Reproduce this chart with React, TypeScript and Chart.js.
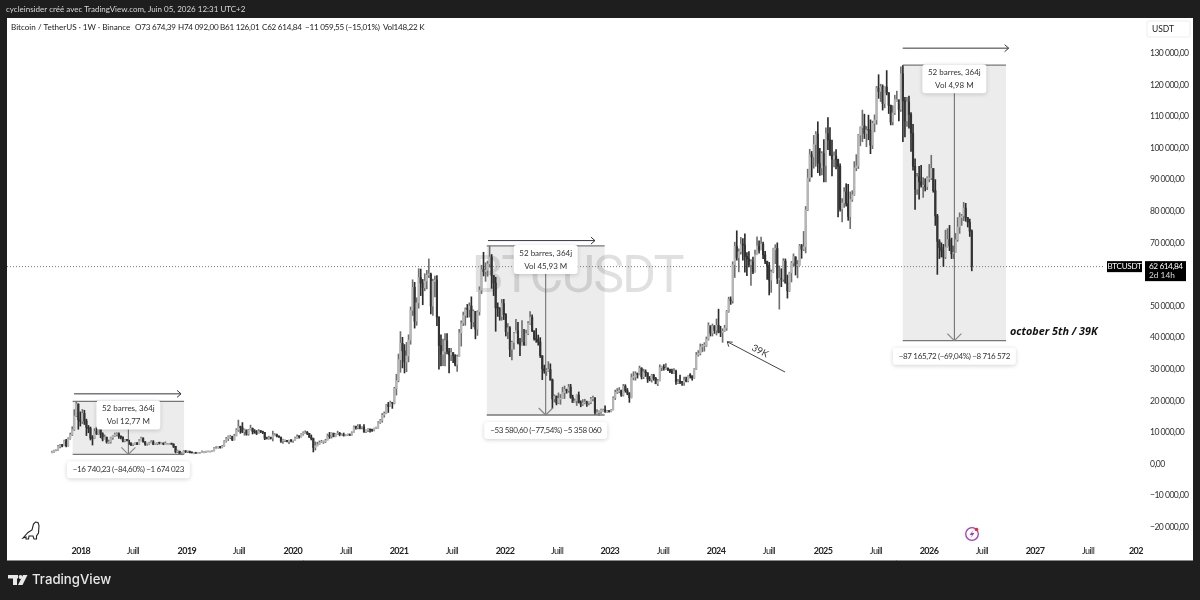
import React, { useEffect, useRef } from "react"
import { Chart, registerables } from "chart.js"

Chart.register(...registerables)

const FONT = "Lato, 'Noto Sans', sans-serif"
const THIN = " "

// weekly candles in thousands of USDT, first bar is the week of 18 Sep 2017
const firstOpen = 3.6
const closes = [
  3.7,4.3,4.4,5.6,6.0,5.7,7.4,5.8,8.0,9.3,10.9,15.2,19.0,14.0,13.5,
  16.0,13.6,11.6,11.2,8.2,8.1,10.3,9.6,11.4,9.5,7.9,8.5,7.0,7.0,8.3,8.9,9.3,9.6,8.7,8.5,7.3,7.7,7.5,6.5,6.2,6.4,6.7,6.2,7.4,8.2,7.0,6.3,6.4,6.7,7.0,6.2,6.5,6.7,6.6,6.6,6.3,6.4,6.4,6.4,6.3,5.6,3.9,4.0,3.2,3.2,4.0,3.9,4.0,
  3.6,3.5,3.5,3.4,3.6,3.6,3.8,3.8,3.9,4.0,4.0,4.1,5.1,5.1,5.3,5.2,5.7,7.2,8.0,8.7,8.7,7.6,8.9,10.8,11.9,11.5,10.2,10.8,9.5,10.8,11.3,10.3,10.1,9.6,10.4,10.3,10.0,8.2,8.1,8.3,8.2,9.2,9.2,8.8,8.5,7.3,7.4,7.5,7.1,7.5,7.3,7.4,
  8.2,8.7,8.6,9.4,9.9,9.9,9.7,8.5,8.0,5.2,5.8,6.2,6.8,6.9,7.1,7.5,8.9,8.7,9.7,8.7,9.4,9.7,9.3,9.3,9.0,9.1,9.3,9.2,9.9,11.8,11.6,11.8,11.6,11.7,10.2,10.7,11.1,10.8,10.7,11.3,11.4,13.1,13.8,15.5,16.0,18.7,18.2,19.4,19.2,23.9,26.4,33.0,
  38.2,35.8,32.3,34.2,39.2,48.6,55.9,45.2,51.0,59.0,57.3,55.8,57.9,59.8,60.0,50.0,57.8,58.2,46.5,37.5,34.7,35.6,39.0,35.6,34.5,35.3,34.3,31.5,34.0,41.5,44.6,47.0,49.0,48.9,50.0,45.0,48.3,42.7,48.2,55.0,61.5,60.9,61.3,63.3,65.5,59.7,57.3,49.4,49.3,46.7,50.8,47.3,
  41.9,43.1,36.3,38.5,41.4,42.2,38.4,37.7,38.4,37.8,41.3,44.5,46.4,42.2,39.7,39.4,38.6,34.3,30.1,29.4,29.5,29.9,26.6,20.6,21.5,19.3,20.8,20.8,22.6,23.6,23.2,24.3,21.1,19.5,20.0,21.8,19.4,18.9,19.3,19.4,19.3,19.5,20.6,20.9,16.3,16.3,16.5,17.1,17.1,16.8,16.8,16.6,
  17.1,20.9,22.7,23.0,23.3,21.8,24.6,23.2,22.4,21.0,27.4,27.5,28.5,28.3,30.3,27.6,29.2,28.9,26.9,26.7,28.1,27.1,25.4,26.3,30.5,30.6,30.3,30.3,29.8,29.3,29.0,29.3,26.0,26.0,25.9,25.8,26.6,26.3,28.0,27.9,27.2,30.0,34.5,35.0,37.1,37.4,37.5,39.5,43.8,41.4,43.7,42.3,
  43.9,41.7,41.6,42.0,43.0,48.3,52.1,51.7,63.1,68.9,65.3,67.2,69.6,69.3,65.7,64.9,63.1,64.0,60.8,66.2,69.0,67.7,69.6,66.2,64.2,62.8,58.2,60.8,68.2,68.2,58.7,58.7,58.4,64.2,57.3,54.8,60.5,63.6,65.6,62.8,62.9,69.0,68.0,68.7,80.4,90.5,97.9,97.2,101.1,104.4,95.2,93.7,98.3,
  94.5,104.5,102.6,97.7,96.5,97.5,96.3,94.2,80.7,82.6,86.1,82.4,78.3,83.7,85.2,93.7,94.3,104.1,106.5,107.0,104.6,105.7,105.6,100.9,107.8,108.9,119.0,117.9,119.4,114.1,119.3,117.5,113.5,108.3,111.1,115.3,115.3,112.2,123.5,114.9,108.6,114.6,110.6,104.7,94.2,87.0,90.9,89.3,88.2,88.2,87.8,90.5,
  90.5,93.5,86.5,78.5,70.5,68.5,67.5,65.5,68.5,71,69,66.5,67,71,75,78,78.5,81,78,76.5,73.67,62.61,
]
const highs = [
  4.1,4.4,4.5,5.9,6.2,6.2,7.6,7.8,8.3,9.8,11.8,17.2,19.8,19.0,16.5,
  17.3,17.0,14.2,12.2,11.7,9.0,11.2,11.7,11.6,11.6,9.9,9.2,8.5,7.6,8.5,9.0,9.8,9.9,9.9,8.9,8.6,7.8,7.8,7.6,6.8,6.5,6.8,6.8,7.7,8.5,8.3,7.1,6.6,6.9,7.4,7.4,6.6,6.8,6.8,6.7,6.7,7.0,6.5,6.5,6.5,6.4,5.6,4.4,4.1,3.6,4.2,4.2,4.1,
  4.1,3.8,3.6,3.5,3.7,3.7,4.2,3.9,4.0,4.0,4.1,4.2,5.3,5.5,5.4,5.6,5.9,7.4,8.4,8.9,9.1,8.8,9.4,11.2,13.9,12.0,13.1,11.1,10.7,11.0,12.3,11.4,10.9,10.6,10.9,10.5,10.4,10.0,8.5,8.8,8.4,10.4,9.6,9.5,8.9,8.5,7.9,7.6,7.5,7.6,7.7,7.5,
  8.5,9.2,8.9,9.6,10.2,10.5,10.3,9.7,9.2,8.2,7.0,6.9,7.3,7.5,7.3,7.8,9.5,10.0,9.9,9.8,9.6,10.4,10.0,9.6,9.8,9.3,9.5,9.3,10.2,12.1,12.0,12.5,12.5,11.8,12.5,10.8,11.2,11.0,11.0,11.4,11.7,13.4,14.1,16.0,16.5,18.9,19.5,19.9,19.4,24.3,28.4,34.8,
  41.9,40.1,37.8,38.5,40.9,49.7,58.3,57.5,52.6,61.8,61.7,58.4,60.2,61.3,64.9,60.4,58.5,59.5,59.6,46.6,40.9,39.5,41.3,41.3,36.6,36.6,35.1,34.6,34.5,42.6,45.3,48.1,49.4,50.5,51.0,52.9,48.8,48.3,48.5,56.1,62.9,67.0,63.7,64.2,69.0,66.3,59.4,59.1,51.0,49.5,52.1,52.1,
  47.6,44.4,43.5,38.9,41.7,45.8,44.8,39.8,45.4,42.6,42.4,45.1,48.2,47.2,41.6,42.9,40.8,40.0,34.2,31.3,30.2,32.4,31.7,26.9,21.9,21.5,22.5,22.0,24.3,24.7,23.7,25.2,25.2,21.8,20.6,21.9,22.8,20.0,20.4,20.5,19.9,19.7,21.1,21.5,21.0,17.2,16.8,17.4,17.4,18.4,17.0,16.9,
  17.2,21.3,23.4,23.9,24.2,23.4,25.2,25.1,23.9,22.6,28.5,29.2,29.2,28.8,31.0,30.5,30.0,29.8,28.8,27.7,28.4,28.4,27.4,26.8,31.4,31.0,31.5,31.8,30.4,30.0,30.0,30.2,29.7,26.8,28.1,26.1,27.5,27.5,28.0,28.6,27.9,30.2,35.3,35.9,38.0,37.9,38.4,40.2,44.7,43.4,44.3,43.8,
  45.9,49.0,43.6,42.8,43.9,48.6,52.8,52.9,64.0,70.2,73.8,68.1,71.7,71.3,72.8,66.9,67.2,64.7,65.5,67.7,71.9,70.6,71.8,70.2,67.3,63.4,63.8,61.4,68.3,69.4,70.0,62.7,61.8,65.0,64.9,59.8,60.7,64.1,66.5,65.5,64.4,69.5,69.5,73.6,81.5,93.3,99.6,98.9,104.0,105.2,108.3,99.9,98.9,
  102.7,106.4,109.6,106.5,102.5,98.8,99.5,96.5,95.0,84.0,87.5,88.7,88.5,86.1,86.5,95.7,97.9,104.3,106.7,112.0,110.7,106.8,110.4,108.9,108.5,110.5,119.5,123.2,120.2,120.0,119.4,124.5,117.5,113.6,113.4,116.7,118.0,113.9,125.7,126.2,116.0,116.0,116.4,111.2,107.5,96.6,92.0,94.2,94.5,90.6,90.3,90.9,
  94.8,97.7,93.5,90.0,79.0,71,70,69.5,74,74.5,75.5,71.5,69,73,78,79.5,79,82.8,82.5,78,77.5,74.09,
]
const lows = [
  3.5,3.7,4.1,4.3,5.1,5.4,6.0,5.4,5.6,7.8,9.0,10.6,15.0,11.0,12.0,
  12.8,12.5,9.0,9.9,7.6,6.0,8.0,9.3,9.4,8.3,7.3,7.9,6.6,6.5,6.6,7.8,8.7,8.9,8.1,7.9,7.0,7.0,7.3,6.1,5.8,5.8,6.2,6.1,6.2,7.3,6.9,5.9,5.9,6.2,6.7,6.1,6.1,6.1,6.3,6.4,6.1,6.3,6.3,6.2,6.2,5.2,3.5,3.6,3.2,3.1,3.2,3.6,3.6,
  3.5,3.5,3.4,3.4,3.4,3.5,3.6,3.7,3.7,3.8,3.9,3.9,4.1,4.9,5.0,5.0,5.1,5.6,6.9,7.4,8.0,7.4,7.6,8.9,10.3,9.7,9.9,9.1,9.1,9.1,10.8,9.5,9.7,9.3,9.6,9.9,9.6,7.7,7.9,7.8,7.9,7.3,9.0,8.6,8.4,6.8,6.5,7.1,7.0,6.4,7.0,6.8,
  7.4,8.1,8.2,8.5,9.1,9.7,9.3,8.4,7.6,3.8,4.4,5.7,6.2,6.7,6.5,6.8,7.6,8.1,8.2,8.6,8.6,9.3,8.9,9.0,8.8,8.9,9.0,9.0,9.1,9.9,11.0,11.1,11.1,11.1,10.0,9.9,10.2,10.1,10.3,10.5,11.2,11.3,12.8,13.2,14.8,15.9,16.3,18.2,17.6,19.0,21.8,26.0,
  29.0,30.4,28.8,29.2,32.3,37.9,47.0,43.0,43.9,49.3,53.3,50.4,54.8,55.4,59.0,47.5,47.0,52.9,43.8,30.0,31.0,31.1,31.0,34.8,28.8,32.7,32.1,31.0,29.3,34.0,37.3,43.8,43.9,46.4,46.5,42.8,43.4,39.6,40.7,47.1,53.9,59.5,57.8,59.4,62.3,55.6,53.3,42.0,46.7,45.5,45.5,45.7,
  40.5,39.7,34.0,32.9,36.3,41.7,38.0,34.3,37.6,37.5,37.6,40.9,44.2,41.9,39.2,38.5,37.6,33.7,26.7,28.7,28.0,29.3,26.5,17.6,19.6,18.7,19.1,18.9,20.8,20.7,22.4,22.7,20.8,19.5,19.5,18.5,19.3,18.1,18.5,19.0,18.2,18.7,19.1,20.0,15.6,15.8,15.4,16.0,16.7,16.3,16.3,16.4,
  16.5,17.1,20.4,22.3,22.5,21.4,21.5,22.7,21.9,19.5,20.9,26.6,26.5,27.2,28.2,26.9,27.0,27.7,25.8,26.3,25.9,26.5,25.4,24.8,26.3,29.5,29.7,29.9,29.5,28.9,28.6,28.7,25.2,25.4,25.4,24.9,24.9,26.0,26.0,27.2,26.5,27.1,29.9,34.1,34.5,35.5,35.7,37.2,39.2,40.5,40.5,41.3,
  40.8,41.5,40.3,38.5,41.9,42.3,48.0,50.5,50.9,59.0,64.5,60.8,66.4,64.5,60.7,59.6,62.4,56.5,60.2,60.7,66.6,66.7,68.4,65.0,63.4,58.4,53.5,54.3,60.6,63.4,57.1,49.0,56.1,57.8,57.2,52.5,54.6,57.6,62.7,59.8,58.9,62.9,65.1,67.5,66.8,80.2,89.4,90.8,93.6,94.2,92.2,91.3,91.5,
  89.3,89.3,99.5,97.7,91.2,94.0,93.4,78.2,80.0,76.6,81.2,81.6,77.1,74.5,83.1,85.0,92.8,93.5,100.7,102.0,103.0,100.4,102.6,98.2,99.8,105.1,107.5,115.7,114.7,112.0,112.7,116.8,110.9,107.3,107.3,110.6,114.8,108.6,111.6,102.0,103.5,106.8,106.3,98.9,93.0,80.6,85.3,83.8,87.6,84.4,86.4,86.8,
  89.3,90.0,86.0,75.5,60.0,65,65.5,62.5,65,68.5,67.5,65,65,67,70.5,73,75.5,77,76.8,75,72,61.13,
]
const lastPrice = 62614.84

const yTickValues = [-20000,-10000,0,10000,20000,30000,40000,50000,60000,70000,80000,90000,100000,110000,120000,130000]
const xTickWeeks = [14.3,40,66.6,92.3,118.9,145.1,171.3,197.4,223.6,249.3,275.4,301.6,327.8,353.9,380.6,406.7,432.9,459,485.2,511.4,535]
const xTickLabels = ["2018","Juill","2019","Juill","2020","Juill","2021","Juill","2022","Juill","2023","Juill","2024","Juill","2025","Juill","2026","Juill","2027","Juill","202"]

// the three bear market measure boxes
const boxStartWeek = [10.2, 214.6, 419.9]
const boxEndWeek = [65.2, 272.8, 470.9]
const boxTop = [19800, 69000, 126200]
const boxBottom = [3060, 15500, 39035]
const boxLine1 = ["52 barres, 364j", "52 barres, 364j", "52 barres, 364j"]
const boxLine2 = [`Vol 12,77${THIN}M`, `Vol 45,93${THIN}M`, `Vol 4,98${THIN}M`]
const boxResult = [
  `\u221216${THIN}740,23 (\u221284,60%) \u22121${THIN}674${THIN}023`,
  `\u221253${THIN}580,60 (\u221277,54%) \u22125${THIN}358${THIN}060`,
  `\u221287${THIN}165,72 (\u221269,04%) \u22128${THIN}716${THIN}572`,
]
const spanArrowStart = [10.9, 215.2, 419.9]
const spanArrowEnd = [63.7, 268, 472.2]
const spanArrowPrice = [22200, 70700, 131600]

const wedgeFromWeek = 361.8
const wedgeFromPrice = 29100
const wedgeToWeek = 333.3
const wedgeToPrice = 38700

const headerText = "cycleinsider cr\u00e9\u00e9 avec TradingView.com, Juin 05, 2026 12:31 UTC+2"
const legendText = "Bitcoin / TetherUS \u00b7 1W \u00b7 Binance"
const legendValues = [`O73${THIN}674,39`, `H74${THIN}092,00`, `B61${THIN}126,01`, `C62${THIN}614,84`, `\u221211${THIN}059,55 (\u221215,01%)`, `Vol148,22${THIN}K`]

const opens = closes.map((_, i) => (i === 0 ? firstOpen : closes[i - 1]))

function frenchPrice(v: number) {
  const abs = Math.abs(v)
  const int = Math.floor(abs).toString().replace(/\B(?=(\d{3})+$)/g, THIN)
  const dec = abs.toFixed(2).split(".")[1]
  return (v < 0 ? "\u2212" : "") + int + "," + dec
}

function text(ctx: any, s: string, x: number, y: number, font: string, color: string, align: CanvasTextAlign = "left", spacing = "0px") {
  ctx.font = font
  ctx.letterSpacing = spacing
  ctx.fillStyle = color
  ctx.textAlign = align
  ctx.textBaseline = "middle"
  ctx.fillText(s, x, y)
}

function line(ctx: CanvasRenderingContext2D, x1: number, y1: number, x2: number, y2: number, color: string, width = 1) {
  ctx.strokeStyle = color
  ctx.lineWidth = width
  ctx.beginPath()
  ctx.moveTo(x1, y1)
  ctx.lineTo(x2, y2)
  ctx.stroke()
}

function labelBox(ctx: CanvasRenderingContext2D, x: number, y: number, w: number, h: number) {
  ctx.save()
  ctx.shadowColor = "rgba(0,0,0,0.18)"
  ctx.shadowBlur = 4
  ctx.shadowOffsetY = 1
  ctx.fillStyle = "#ffffff"
  ctx.beginPath()
  ctx.roundRect(x, y, w, h, 3)
  ctx.fill()
  ctx.restore()
}

const framePlugin = {
  id: "frame",
  beforeDraw(chart: any) {
    const { ctx } = chart
    ctx.save()
    ctx.fillStyle = "#1e1e1e"
    ctx.fillRect(0, 0, 1200, 600)
    ctx.fillStyle = "#ffffff"
    ctx.fillRect(7, 18, 1186, 542)
    line(ctx, 7, 560.5, 1193, 560.5, "#8a8a8a")
    text(ctx, headerText, 6, 9.5, `8px ${FONT}`, "#d8d8d8")

    // TradingView logo, bottom left
    ctx.fillStyle = "#e8e8e8"
    ctx.fillRect(8, 575, 10, 3.5)
    ctx.fillRect(13, 575, 4, 10)
    ctx.beginPath()
    ctx.arc(20.5, 577, 1.9, 0, Math.PI * 2)
    ctx.fill()
    ctx.beginPath()
    ctx.moveTo(23, 575)
    ctx.lineTo(27.5, 575)
    ctx.lineTo(22.5, 585)
    ctx.lineTo(18, 585)
    ctx.closePath()
    ctx.fill()
    text(ctx, "TradingView", 32, 580.5, `500 13.2px Inter, ${FONT}`, "#e8e8e8")
    ctx.restore()
    // axis labels are drawn right after this hook and sit a little tighter
    ctx.letterSpacing = "-0.55px"
  },
  beforeDatasetsDraw(chart: any) {
    const { ctx, scales } = chart
    const px = (w: number) => scales.x.getPixelForValue(w)
    const py = (p: number) => scales.y.getPixelForValue(p)
    ctx.save()
    boxStartWeek.forEach((w, i) => {
      ctx.fillStyle = "#ececec"
      ctx.fillRect(px(w), py(boxTop[i]), px(boxEndWeek[i]) - px(w), py(boxBottom[i]) - py(boxTop[i]))
    })
    ctx.globalAlpha = 0.12
    text(ctx, "BTCUSDT", 577, 279, `52px Roboto, ${FONT}`, "#000000", "center", "-2px")
    ctx.globalAlpha = 1
    ctx.setLineDash([1, 2])
    line(ctx, 7, py(lastPrice) + 0.5, 1105, py(lastPrice) + 0.5, "#777777")
    ctx.setLineDash([])
    ctx.restore()
  },
  afterDatasetsDraw(chart: any) {
    const { ctx, scales } = chart
    const px = (w: number) => scales.x.getPixelForValue(w)
    const py = (p: number) => scales.y.getPixelForValue(p)
    const labelFont = `8px ${FONT}`
    ctx.save()

    boxStartWeek.forEach((w, i) => {
      const left = px(w)
      const right = px(boxEndWeek[i])
      const top = py(boxTop[i])
      const bottom = py(boxBottom[i])
      const mid = (left + right) / 2
      line(ctx, left, top, right, top, "#777777", 1.3)
      line(ctx, left, bottom, right, bottom, "#777777", 1.3)
      line(ctx, mid, top + 20, mid, bottom, "#666666", 1)
      line(ctx, mid - 7, bottom - 7, mid, bottom, "#888888", 1.2)
      line(ctx, mid + 7, bottom - 7, mid, bottom, "#888888", 1.2)

      labelBox(ctx, mid - 32, top - 1, 64, 29)
      text(ctx, boxLine1[i], mid, top + 7, labelFont, "#333333", "center")
      text(ctx, boxLine2[i], mid, top + 20, labelFont, "#333333", "center")

      labelBox(ctx, mid - 61.5, bottom + 7, 123, 17)
      text(ctx, boxResult[i], mid, bottom + 15.5, labelFont, "#333333", "center", "-0.35px")

      const ax1 = px(spanArrowStart[i])
      const ax2 = px(spanArrowEnd[i])
      const ay = py(spanArrowPrice[i])
      line(ctx, ax1, ay, ax2, ay, "#333344", 1)
      line(ctx, ax2 - 4, ay - 3.5, ax2, ay, "#333344", 1)
      line(ctx, ax2 - 4, ay + 3.5, ax2, ay, "#333344", 1)
    })

    // trend arrow with its 39K note
    const wx1 = px(wedgeFromWeek)
    const wy1 = py(wedgeFromPrice)
    const wx2 = px(wedgeToWeek)
    const wy2 = py(wedgeToPrice)
    line(ctx, wx1, wy1, wx2, wy2, "#444444", 1)
    line(ctx, wx2 + 5.5, wy2 + 0.5, wx2, wy2, "#444444", 1)
    line(ctx, wx2 + 1.5, wy2 + 5, wx2, wy2, "#444444", 1)
    ctx.save()
    ctx.translate(760, 351)
    ctx.rotate((28 * Math.PI) / 180)
    text(ctx, "39K", 0, 0, `9.5px ${FONT}`, "#333333", "center")
    ctx.restore()

    text(ctx, "october 5th / 39K", 1010, 332, `italic 700 10.8px 'Open Sans', ${FONT}`, "#111111")

    // legend row
    text(ctx, legendText, 11, 27.5, `8.1px ${FONT}`, "#222222")
    const legendX = [135, 178, 220, 262, 305, 383]
    legendValues.forEach((v, i) => text(ctx, v, legendX[i], 27.5, `8.1px ${FONT}`, "#222222", "left", "-0.25px"))

    // currency button
    ctx.fillStyle = "#ffffff"
    ctx.strokeStyle = "#eeeeee"
    ctx.lineWidth = 1
    ctx.beginPath()
    ctx.roundRect(1147, 21, 43, 16, 2)
    ctx.fill()
    ctx.stroke()
    text(ctx, "USDT", 1152, 29.5, `8.5px ${FONT}`, "#222222")

    // last price tags
    const tagY = py(lastPrice)
    ctx.fillStyle = "#000000"
    ctx.fillRect(1107, tagY - 5, 35, 11)
    text(ctx, "BTCUSDT", 1124.5, tagY + 0.5, `8px ${FONT}`, "#ffffff", "center", "-0.2px")
    ctx.fillStyle = "#000000"
    ctx.fillRect(1145, tagY - 5, 41, 20)
    text(ctx, frenchPrice(lastPrice), 1149, tagY + 0.5, `8.3px ${FONT}`, "#ffffff", "left", "-0.45px")
    text(ctx, "2d 14h", 1149, tagY + 9.5, `8.3px ${FONT}`, "#dddddd")

    // dino mark, bottom left
    ctx.strokeStyle = "#222222"
    ctx.lineWidth = 1.1
    ctx.beginPath()
    ctx.moveTo(23, 538)
    ctx.lineTo(28, 532.5)
    ctx.lineTo(32, 530)
    ctx.lineTo(33.5, 524)
    ctx.lineTo(35.5, 522)
    ctx.lineTo(38, 522.5)
    ctx.lineTo(39, 525.5)
    ctx.lineTo(38.5, 533)
    ctx.lineTo(36.5, 536)
    ctx.lineTo(36.5, 539)
    ctx.lineTo(34, 539)
    ctx.lineTo(33, 536)
    ctx.lineTo(29, 536)
    ctx.lineTo(28.5, 539)
    ctx.lineTo(26, 539)
    ctx.lineTo(26, 537)
    ctx.closePath()
    ctx.stroke()

    // lightning badge near the time axis
    ctx.strokeStyle = "#a43bc4"
    ctx.lineWidth = 1.3
    ctx.beginPath()
    ctx.arc(972, 534, 6.3, 0, Math.PI * 2)
    ctx.stroke()
    ctx.fillStyle = "#a43bc4"
    ctx.beginPath()
    ctx.moveTo(973.5, 530)
    ctx.lineTo(969.5, 535)
    ctx.lineTo(972, 535)
    ctx.lineTo(970.5, 538)
    ctx.lineTo(974.5, 533)
    ctx.lineTo(972, 533)
    ctx.closePath()
    ctx.fill()
    ctx.fillStyle = "#ee2b2b"
    ctx.beginPath()
    ctx.arc(976.5, 529.5, 1.8, 0, Math.PI * 2)
    ctx.fill()

    ctx.restore()
  },
}

const App: React.FC = () => {
  const canvasRef = useRef<HTMLCanvasElement>(null)

  useEffect(() => {
    if (!canvasRef.current) return
    const isUp = (i: number) => closes[i] >= opens[i]
    const chart = new Chart(canvasRef.current, {
      type: "bar",
      data: {
        datasets: [
          {
            label: "wicks",
            order: 2,
            barThickness: 1,
            data: closes.map((_, i) => ({ x: i, y: [lows[i] * 1000, highs[i] * 1000] })),
            backgroundColor: closes.map((_, i) => (isUp(i) ? "#707070" : "#2c2c2c")),
          },
          {
            label: "bodies",
            order: 1,
            barThickness: 1.5,
            minBarLength: 1,
            data: closes.map((c, i) => ({ x: i, y: [opens[i] * 1000, c * 1000] })),
            backgroundColor: closes.map((_, i) => (isUp(i) ? "#b6b6b6" : "#333333")),
          },
        ] as any,
      },
      options: {
        animation: false,
        responsive: false,
        grouped: false,
        layout: { padding: { left: 7, right: 7, top: 18, bottom: 40 } },
        plugins: { legend: { display: false }, tooltip: { enabled: false }, title: { display: false } },
        scales: {
          x: {
            type: "linear",
            offset: false,
            min: -22.2,
            max: 539,
            grid: { display: false, drawTicks: false },
            border: { display: false },
            afterBuildTicks: (scale: any) => {
              scale.ticks = xTickWeeks.map((value) => ({ value }))
            },
            afterFit: (scale: any) => {
              scale.height = 18
            },
            ticks: {
              autoSkip: false,
              maxRotation: 0,
              padding: 4,
              callback: (_v: any, i: number) => xTickLabels[i],
              color: "#222222",
              font: (ctx: any) => ({
                family: FONT,
                size: 9,
                weight: ctx.tick && ctx.tick.label === "Juill" ? "400" : "700",
              }),
            },
          },
          y: {
            type: "linear",
            position: "right",
            min: -24684,
            max: 141139,
            grid: { display: false, drawTicks: false },
            border: { display: false },
            afterBuildTicks: (scale: any) => {
              scale.ticks = yTickValues.map((value) => ({ value }))
            },
            afterFit: (scale: any) => {
              scale.width = 49
            },
            ticks: {
              padding: 6,
              color: "#333333",
              font: { family: FONT, size: 8.6 },
              callback: (v: any) => frenchPrice(Number(v)),
            },
          },
        },
      } as any,
      plugins: [framePlugin],
    })
    return () => {
      chart.destroy()
    }
  }, [])

  return (
    <div style={{ position: "fixed", left: 0, top: 0, width: 1200, height: 600 }}>
      <canvas ref={canvasRef} width={1200} height={600} style={{ display: "block", filter: "blur(0.3px)" }} />
    </div>
  )
}

export default App
